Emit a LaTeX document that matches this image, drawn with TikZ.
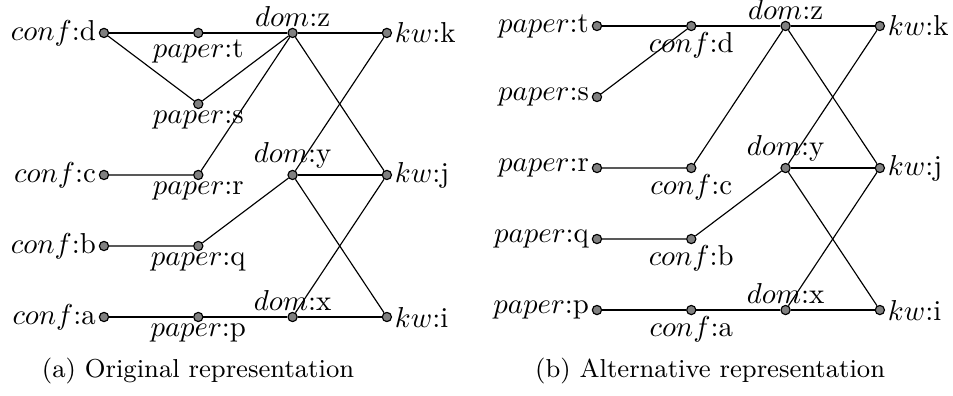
\documentclass[tikz,border=0pt]{standalone}
\usepackage{tikz}
\usetikzlibrary{positioning}
\tikzset{
  vtx/.style={circle, draw=black, fill=gray, inner sep=0pt, minimum size=3.2pt,
              line width=0.4pt},
  link/.style={draw=black, line width=0.4pt},
  every label/.style={inner sep=0.8pt},
  lup/.style={label={[inner sep=0.4pt]above:#1}},
  ldown/.style={label={[inner sep=0.3pt]below:#1}},
  captxt/.style={inner sep=0pt, font=\small},
}
\begin{document}
\begin{tikzpicture}[x=1cm, y=1cm]
  \useasboundingbox (0,0) rectangle (11.622,-4.829);

  % (a) original representation
  \begin{scope}[shift={(1.268cm,-0.402cm)}, x=1.15cm, y=-0.866cm]
    \node[vtx, label={left:$conf$:d}]   (a-confd)  at (0,0) {};
    \node[vtx, label={left:$conf$:c}]   (a-confc)  at (0,2) {};
    \node[vtx, label={left:$conf$:b}]   (a-confb)  at (0,3) {};
    \node[vtx, label={left:$conf$:a}]   (a-confa)  at (0,4) {};
    \node[vtx, ldown={$paper$:t}]       (a-papert) at (1,0) {};
    \node[vtx, ldown={$paper$:s}]       (a-papers) at (1,1) {};
    \node[vtx, ldown={$paper$:r}]       (a-paperr) at (1,2) {};
    \node[vtx, ldown={$paper$:q}]       (a-paperq) at (1,3) {};
    \node[vtx, ldown={$paper$:p}]       (a-paperp) at (1,4) {};
    \node[vtx, lup={$dom$:z}]           (a-domz)   at (2,0) {};
    \node[vtx, lup={$dom$:y}]           (a-domy)   at (2,2) {};
    \node[vtx, lup={$dom$:x}]           (a-domx)   at (2,4) {};
    \node[vtx, label={right:$kw$:k}]    (a-kwk)    at (3,0) {};
    \node[vtx, label={right:$kw$:j}]    (a-kwj)    at (3,2) {};
    \node[vtx, label={right:$kw$:i}]    (a-kwi)    at (3,4) {};

    \draw[link] (a-confd) -- (a-papert) -- (a-domz) -- (a-kwk);
    \draw[link] (a-confd) -- (a-papers) -- (a-domz);
    \draw[link] (a-confc) -- (a-paperr) -- (a-domz);
    \draw[link] (a-confb) -- (a-paperq) -- (a-domy);
    \draw[link] (a-confa) -- (a-paperp) -- (a-domx) -- (a-kwi);
    \draw[link] (a-domz) -- (a-kwj);
    \draw[link] (a-domy) -- (a-kwk);
    \draw[link] (a-domy) -- (a-kwj);
    \draw[link] (a-domy) -- (a-kwi);
    \draw[link] (a-domx) -- (a-kwj);
  \end{scope}

  % (b) alternative representation
  \begin{scope}[shift={(7.28cm,-0.317cm)}, x=1.15cm, y=-0.866cm]
    \node[vtx, label={left:$paper$:t}]  (b-papert) at (0,0) {};
    \node[vtx, label={left:$paper$:s}]  (b-papers) at (0,1) {};
    \node[vtx, label={left:$paper$:r}]  (b-paperr) at (0,2) {};
    \node[vtx, label={left:$paper$:q}]  (b-paperq) at (0,3) {};
    \node[vtx, label={left:$paper$:p}]  (b-paperp) at (0,4) {};
    \node[vtx, ldown={$conf$:d}]        (b-confd)  at (1,0) {};
    \node[vtx, ldown={$conf$:c}]        (b-confc)  at (1,2) {};
    \node[vtx, ldown={$conf$:b}]        (b-confb)  at (1,3) {};
    \node[vtx, ldown={$conf$:a}]        (b-confa)  at (1,4) {};
    \node[vtx, lup={$dom$:z}]           (b-domz)   at (2,0) {};
    \node[vtx, lup={$dom$:y}]           (b-domy)   at (2,2) {};
    \node[vtx, lup={$dom$:x}]           (b-domx)   at (2,4) {};
    \node[vtx, label={right:$kw$:k}]    (b-kwk)    at (3,0) {};
    \node[vtx, label={right:$kw$:j}]    (b-kwj)    at (3,2) {};
    \node[vtx, label={right:$kw$:i}]    (b-kwi)    at (3,4) {};

    \draw[link] (b-papert) -- (b-confd) -- (b-domz) -- (b-kwk);
    \draw[link] (b-papers) -- (b-confd);
    \draw[link] (b-paperr) -- (b-confc) -- (b-domz);
    \draw[link] (b-paperq) -- (b-confb) -- (b-domy);
    \draw[link] (b-paperp) -- (b-confa) -- (b-domx) -- (b-kwi);
    \draw[link] (b-domz) -- (b-kwj);
    \draw[link] (b-domy) -- (b-kwk);
    \draw[link] (b-domy) -- (b-kwj);
    \draw[link] (b-domy) -- (b-kwi);
    \draw[link] (b-domx) -- (b-kwj);
  \end{scope}

  % captions
  \node[captxt] (capa) at (2.415,-4.53) {(a) Original representation};
  \node[captxt] (capb) at (8.66,-4.53)  {(b) Alternative representation};

\end{tikzpicture}
\end{document}
